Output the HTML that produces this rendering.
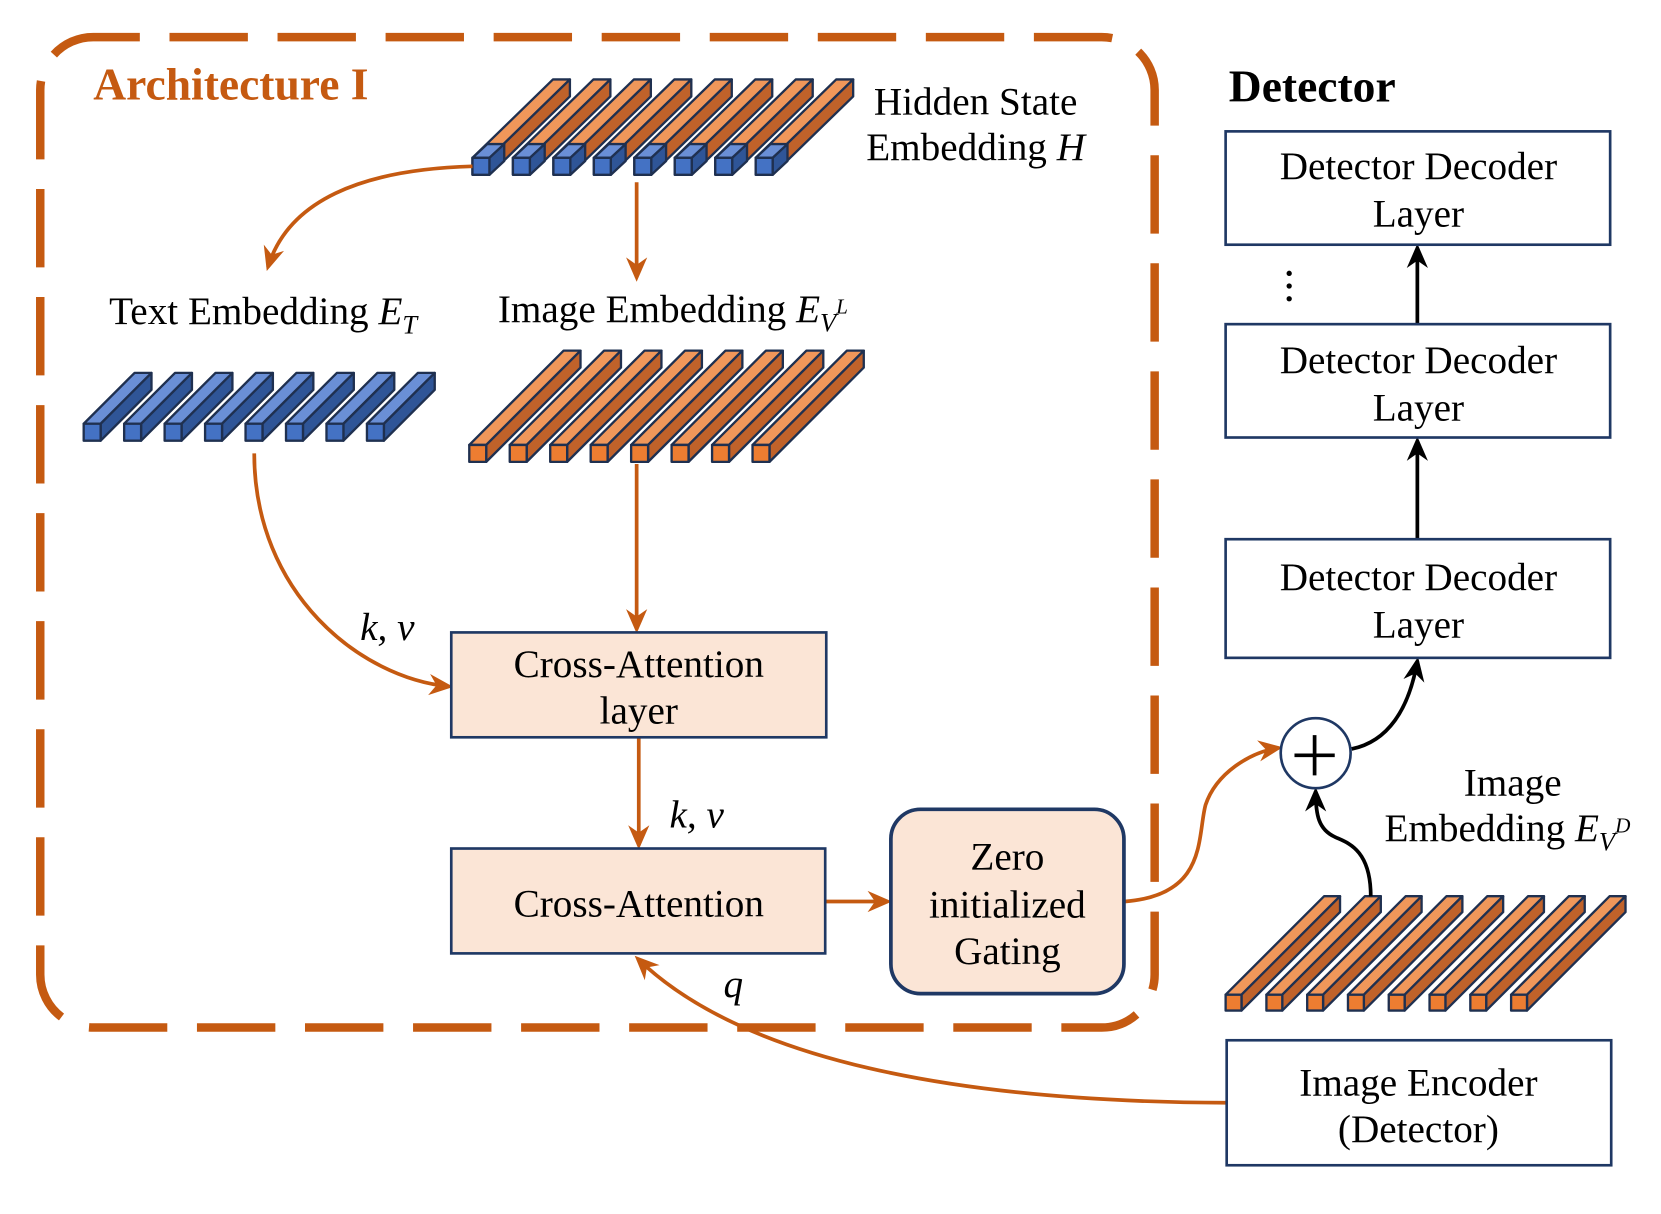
<!DOCTYPE html>
<html><head><meta charset="utf-8"><style>
html,body{margin:0;padding:0;background:#fff;}
svg{display:block;}
text{font-family:"Liberation Serif",serif;fill:#000;}
</style></head><body>
<svg id="s" width="1661" height="1214" viewBox="0 0 1568 1146" xmlns="http://www.w3.org/2000/svg">
<defs>
<marker id="ao" refX="19" refY="10" markerWidth="30" markerHeight="30" markerUnits="userSpaceOnUse" orient="auto" style="overflow:visible">
<path d="M0,0 L23,10 L0,20 L7,10 Z" fill="#C55A11"/>
</marker>
<marker id="ab" refX="19" refY="10" markerWidth="30" markerHeight="30" markerUnits="userSpaceOnUse" orient="auto" style="overflow:visible">
<path d="M0,0 L23,10 L0,20 L7,10 Z" fill="#000"/>
</marker>
</defs>
<rect x="38" y="35" width="1052" height="935" rx="50" fill="none" stroke="#C55A11" stroke-width="8" stroke-dasharray="74 28" stroke-dashoffset="30"/>
<text x="88" y="94" font-size="43" font-weight="bold" style="fill:#C55A11">Architecture I</text>
<text x="1160" y="96" font-size="43" font-weight="bold">Detector</text>
<g id="bars"></g>
<g fill="none" stroke="#C55A11" stroke-width="3.5">
<path d="M446,157 C340,160 272,190 253,252" marker-end="url(#ao)"/>
<path d="M601,172 L601,262" marker-end="url(#ao)"/>
<path d="M240,428 C240,560 340,640 424,648" marker-end="url(#ao)"/>
<path d="M601,438 L601,594" marker-end="url(#ao)"/>
<path d="M603,697 L603,798" marker-end="url(#ao)"/>
<path d="M780,851 L838,851" marker-end="url(#ao)"/>
<path d="M1062,851 C1140,845 1130,790 1138,760 C1148,730 1180,710 1207,706" marker-end="url(#ao)"/>
<path d="M1158,1041 C900,1040 700,1000 602,905" marker-end="url(#ao)"/>
</g>
<g fill="none" stroke="#000" stroke-width="3.5">
<path d="M1276,707 C1310,700 1330,670 1338,624" marker-end="url(#ab)"/>
<path d="M1294,846 C1294,800 1270,795 1260,790 C1245,783 1242,770 1242,747" marker-end="url(#ab)"/>
<path d="M1338,509 L1338,416" marker-end="url(#ab)"/>
<path d="M1338,306 L1338,234" marker-end="url(#ab)"/>
</g>
<circle cx="1217" cy="258" r="2.5"/><circle cx="1217" cy="270" r="2.5"/><circle cx="1217" cy="282" r="2.5"/>
<g stroke="#1F3864" stroke-width="2.5">
<rect x="426" y="597" width="354" height="99" fill="#FBE5D6"/>
<rect x="426" y="801" width="353" height="99" fill="#FBE5D6"/>
<rect x="841" y="764" width="220" height="174" rx="28" fill="#FBE5D6" stroke-width="3.5"/>
<rect x="1157" y="124" width="363" height="107" fill="#fff"/>
<rect x="1157" y="306" width="363" height="107" fill="#fff"/>
<rect x="1157" y="509" width="363" height="112" fill="#fff"/>
<rect x="1158" y="982" width="363" height="118" fill="#fff"/>
<circle cx="1242" cy="711" r="33" fill="#fff"/>
</g>
<path d="M1222,713 H1260 M1241,694 V732" stroke="#000" stroke-width="3.5"/>
<g font-size="37" text-anchor="middle">
<text x="603" y="639">Cross-Attention</text><text x="603" y="683">layer</text>
<text x="603" y="865">Cross-Attention</text>
<text x="951" y="821">Zero</text><text x="951" y="866">initialized</text><text x="951" y="910">Gating</text>
<text x="1339" y="169">Detector Decoder</text><text x="1339" y="214">Layer</text>
<text x="1339" y="352">Detector Decoder</text><text x="1339" y="397">Layer</text>
<text x="1339" y="557">Detector Decoder</text><text x="1339" y="602">Layer</text>
<text x="1339" y="1034">Image Encoder</text><text x="1339" y="1078">(Detector)</text>
<text x="921" y="108">Hidden State</text>
<text x="921" y="151">Embedding <tspan font-style="italic">H</tspan></text>
<text x="1428" y="751">Image</text>
</g>
<g font-size="37">
<text x="103" y="306">Text Embedding <tspan font-style="italic">E</tspan><tspan font-style="italic" font-size="25" dy="9">T</tspan></text>
<text x="470" y="304">Image Embedding <tspan font-style="italic">E</tspan><tspan font-style="italic" font-size="25" dy="9">V</tspan><tspan font-style="italic" font-size="20" dy="-17">L</tspan></text>
<text x="1307" y="794">Embedding <tspan font-style="italic">E</tspan><tspan font-style="italic" font-size="25" dy="9">V</tspan><tspan font-style="italic" font-size="20" dy="-17">D</tspan></text>
<text x="340" y="604" font-style="italic">k, v</text>
<text x="632" y="781" font-style="italic">k, v</text>
<text x="683" y="941" font-style="italic">q</text>
</g>
<script>
var g=document.getElementById('bars'),NS='http://www.w3.org/2000/svg';
function poly(p,f){var e=document.createElementNS(NS,'polygon');e.setAttribute('points',p.map(function(q){return q.join(',')}).join(' '));e.setAttribute('fill',f);e.setAttribute('stroke','#1F3050');e.setAttribute('stroke-width','2.2');e.setAttribute('stroke-linejoin','round');g.appendChild(e);}
function bar(x,y,s,dx,dy,c){
 poly([[x,y],[x+s,y],[x+s+dx,y+dy],[x+dx,y+dy]],c[0]);
 poly([[x+s,y],[x+s,y+s],[x+s+dx,y+s+dy],[x+s+dx,y+dy]],c[1]);
 poly([[x,y],[x+s,y],[x+s,y+s],[x,y+s]],c[2]);}
var O=['#F0975A','#C0622A','#ED7D31'],B=['#6A8FD6','#2F5597','#4472C4'];
for(var i=0;i<8;i++){
 var x=446+i*38.2;
 bar(x,149,16,76,-74,O); bar(x,149,16,14,-13,B);
 bar(79+i*38.2,400,16,48,-48,B);
 bar(443+i*38.2,420,16,89,-89,O);
 bar(1157+i*38.5,939,15,93,-93,O);
}
</script>
</svg>
</body></html>
